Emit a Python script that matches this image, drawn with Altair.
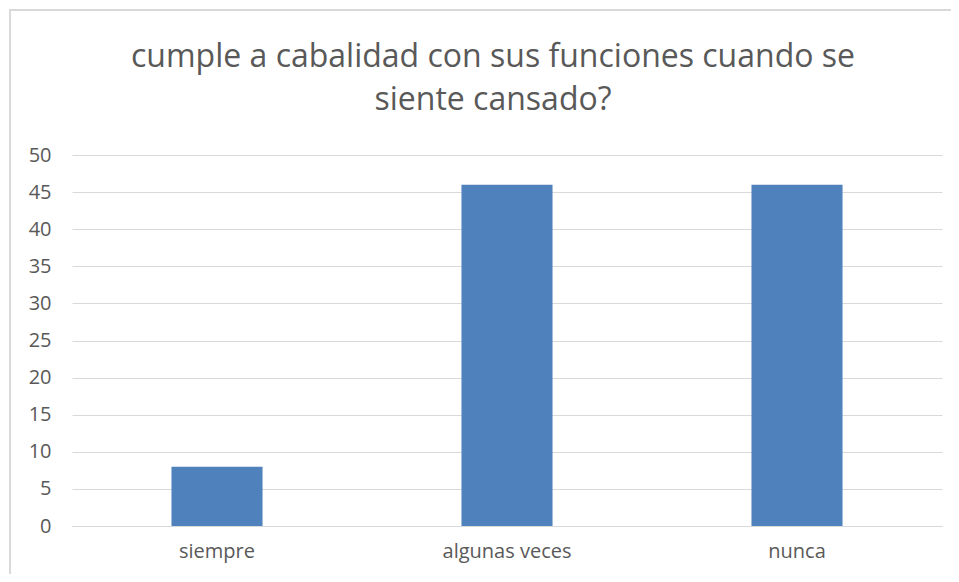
import altair as alt
import pandas as pd

categories = ["siempre", "algunas veces", "nunca"]
values = [8, 46, 46]
y_ticks = [0, 5, 10, 15, 20, 25, 30, 35, 40, 45, 50]
title_lines = ["cumple a cabalidad con sus funciones cuando se", "siente cansado?"]

df = pd.DataFrame({"cat": categories, "val": values})
one = pd.DataFrame({"k": [0]})

FONT = "Open Sans"
GRAY = "#595959"

bars = alt.Chart(df).mark_bar(color="#4F81BD").encode(
    x=alt.X("cat:N", sort=categories,
            scale=alt.Scale(paddingInner=0.686, paddingOuter=0.343),
            axis=alt.Axis(title=None, labelAngle=0, ticks=False, domain=True,
                          domainColor="#D9D9D9", labelColor=GRAY, labelFont=FONT,
                          labelFontSize=20, labelPadding=15, grid=False)),
    y=alt.Y("val:Q", scale=alt.Scale(domain=[0, 50], nice=False),
            axis=alt.Axis(title=None, values=y_ticks, ticks=False, domain=False,
                          gridColor="#D9D9D9", labelColor=GRAY, labelFont=FONT,
                          labelFontSize=20, labelPadding=21)),
)

top_border = alt.Chart(one).mark_rule(stroke="#D9D9D9", strokeWidth=2).encode(
    x=alt.value(-63), x2=alt.value(880), y=alt.value(-145),
)
left_border = alt.Chart(one).mark_rule(stroke="#D9D9D9", strokeWidth=2).encode(
    x=alt.value(-62), y=alt.value(-145), y2=alt.value(420),
)

chart = alt.layer(top_border, left_border, bars).properties(
    width=870,
    height=371,
    autosize=alt.AutoSizeParams(type="none"),
    padding={"left": 64, "top": 147, "right": 9, "bottom": 48},
    title=alt.TitleParams(text=title_lines, font=FONT, fontSize=32, fontWeight="normal",
                          color=GRAY, anchor="middle", offset=-108, dx=-14,
                          lineHeight=43),
).configure_view(stroke=None)

chart.save("out.html", embed_options={"renderer": "svg", "actions": False})
